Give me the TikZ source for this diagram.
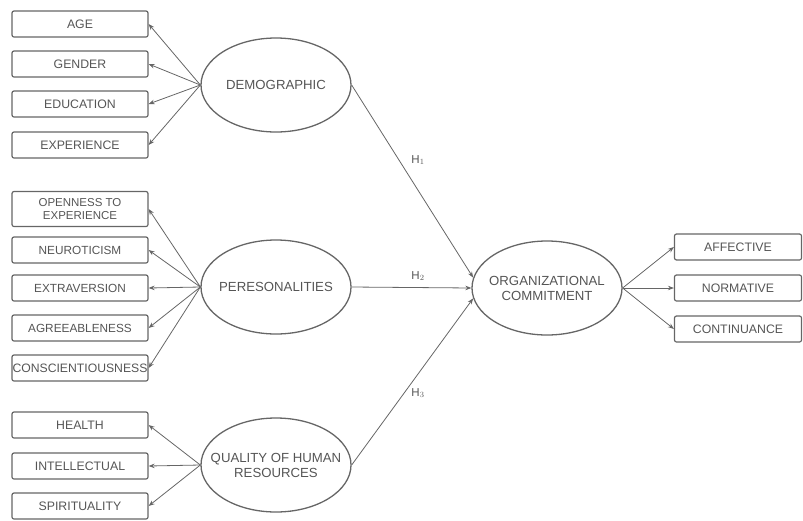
\documentclass[tikz,border=0pt]{standalone}
\usepackage{fontspec}
\setmainfont{Liberation Sans}
\usetikzlibrary{shapes.geometric,arrows.meta}
\definecolor{ink}{HTML}{555555}
\definecolor{edge}{HTML}{666666}
\begin{document}
\begin{tikzpicture}[x=1pt,y=-1pt,
  every node/.style={text=ink},
  item/.style={draw=edge,line width=1.2pt,rounded corners=2pt,minimum width=136pt,
    minimum height=26pt,inner sep=0pt,align=center,font=\fontsize{12.3}{13}\selectfont},
  ritem/.style={item,minimum width=127pt},
  % the ellipse keeps a fixed size; its caption sits in a centred label
  latent/.style={ellipse,draw=edge,line width=1.3pt,minimum width=150pt,minimum height=94pt,
    inner sep=0pt,label={[caption]center:#1}},
  caption/.style={align=center,inner sep=0pt,font=\fontsize{13.2}{15}\selectfont},
  link/.style={draw=edge,line width=0.8pt,-{Stealth[length=6pt,width=4.5pt]}},
  hyp/.style={font=\fontsize{11.5}{13}\selectfont}]
\useasboundingbox (0,0) rectangle (803,520);

% Demographic construct and its indicators
\node[latent=DEMOGRAPHIC] (dem) at (276,85) {};
\node[item] (age) at (80,24) {AGE};
\node[item] (gen) at (80,64) {GENDER};
\node[item] (edu) at (80,104) {EDUCATION};
\node[item] (exp) at (80,145) {EXPERIENCE};

% Personality construct and its indicators
\node[latent=PERESONALITIES] (per) at (276,287) {};
\node[item,minimum height=35pt,font=\fontsize{11.5}{12.5}\selectfont] (opn) at (80,209) {OPENNESS TO\\EXPERIENCE};
\node[item,font=\fontsize{11.8}{13}\selectfont] (neu) at (80,250) {NEUROTICISM};
\node[item,font=\fontsize{11.8}{13}\selectfont] (ext) at (80,288) {EXTRAVERSION};
\node[item,font=\fontsize{11.8}{13}\selectfont] (agr) at (80,328) {AGREEABLENESS};
\node[item,font=\fontsize{12.2}{13}\selectfont] (con) at (80,368) {CONSCIENTIOUSNESS};

% Quality of human resources construct and its indicators
\node[latent={QUALITY OF HUMAN\\RESOURCES}] (qhr) at (276,465) {};
\node[item] (hea) at (80,425) {HEALTH};
\node[item] (int) at (80,466) {INTELLECTUAL};
\node[item] (spi) at (80,506) {SPIRITUALITY};

% Organizational commitment and its dimensions
\node[latent={ORGANIZATIONAL\\COMMITMENT}] (org) at (547,288) {};
\node[ritem] (aff) at (738,247) {AFFECTIVE};
\node[ritem] (nor) at (738,288) {NORMATIVE};
\node[ritem] (cnt) at (738,329) {CONTINUANCE};

% Indicator arrows
\foreach \t in {age,gen,edu,exp} \draw[link] (dem.west) -- (\t.east);
\foreach \t in {opn,neu,ext,agr,con} \draw[link] (per.west) -- (\t.east);
\foreach \t in {hea,int,spi} \draw[link] (qhr.west) -- (\t.east);
\foreach \t in {aff,nor,cnt} \draw[link] (org.east) -- (\t.west);

% Hypothesised paths
\draw[link] (dem.east) -- (org.172);
\draw[link] (per.east) -- (org.west);
\draw[link] (qhr.east) -- (org.188);
\node[hyp] (h1) at (418,160) {H$_1$};
\node[hyp] (h2) at (418,276) {H$_2$};
\node[hyp] (h3) at (418,393) {H$_3$};
\end{tikzpicture}
\end{document}
